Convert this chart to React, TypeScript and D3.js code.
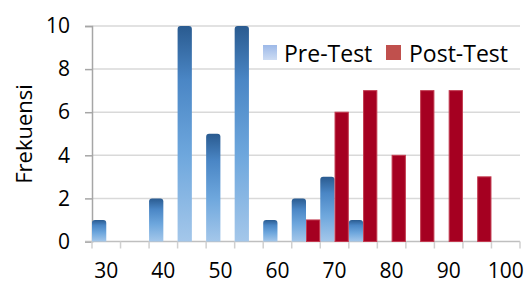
import { useEffect, useRef } from 'react';
import * as d3 from 'd3';

const categories = ['30', '35', '40', '45', '50', '55', '60', '65', '70', '75', '80', '85', '90', '95', '100'];
const preTest = [1, 0, 2, 10, 5, 10, 1, 2, 3, 1, 0, 0, 0, 0, 0];
const postTest = [0, 0, 0, 0, 0, 0, 0, 1, 6, 7, 4, 7, 7, 3, 0];
const xTickLabels = ['30', '40', '50', '60', '70', '80', '90', '100'];
const yTicks = [0, 2, 4, 6, 8, 10];
const seriesNames = ['Pre-Test', 'Post-Test'];

const FONT = '"Open Sans", sans-serif';

export default function App() {
  const svgRef = useRef<SVGSVGElement>(null);

  useEffect(() => {
    if (!svgRef.current) return;
    const svg = d3.select(svgRef.current);
    svg.selectAll('*').remove();

    const width = 525;
    const height = 282;
    const margin = { left: 92, right: 5, top: 26, bottom: 40.5 };

    const x = d3.scaleBand<string>()
      .domain(categories)
      .range([margin.left, width - margin.right])
      .padding(0);

    const xs = d3.scaleBand<string>()
      .domain(seriesNames)
      .range([0, x.bandwidth()])
      .padding(0);

    const y = d3.scaleLinear()
      .domain([0, 10])
      .range([height - margin.bottom, margin.top]);

    const defs = svg.append('defs');
    const grad = defs.append('linearGradient')
      .attr('id', 'preGrad')
      .attr('x1', 0).attr('y1', 0).attr('x2', 0).attr('y2', 1);
    grad.append('stop').attr('offset', '0%').attr('stop-color', '#2a5b90');
    grad.append('stop').attr('offset', '25%').attr('stop-color', '#4a86c5');
    grad.append('stop').attr('offset', '60%').attr('stop-color', '#6ea7dd');
    grad.append('stop').attr('offset', '100%').attr('stop-color', '#a4c7ea');

    const legGrad = defs.append('linearGradient')
      .attr('id', 'legGrad')
      .attr('x1', 0).attr('y1', 0).attr('x2', 0).attr('y2', 1);
    legGrad.append('stop').attr('offset', '0%').attr('stop-color', '#9db9e8');
    legGrad.append('stop').attr('offset', '100%').attr('stop-color', '#cddcf3');

    // gridlines
    svg.append('g')
      .selectAll('line')
      .data(yTicks.filter(d => d > 0))
      .join('line')
      .attr('x1', margin.left)
      .attr('x2', width - margin.right)
      .attr('y1', d => y(d))
      .attr('y2', d => y(d))
      .attr('stroke', '#d9d9d9')
      .attr('stroke-width', 1.5);

    // y axis
    const yAxis = d3.axisLeft(y)
      .tickValues(yTicks)
      .tickSize(7)
      .tickPadding(15)
      .tickFormat(d => String(d));
    const gy = svg.append('g')
      .attr('transform', `translate(${margin.left},0)`)
      .call(yAxis);
    gy.select('.domain').attr('stroke', '#a6a6a6').attr('stroke-width', 1.5);
    gy.selectAll('.tick line').attr('stroke', '#a6a6a6').attr('stroke-width', 1.5);
    gy.selectAll('.tick text')
      .attr('font-family', FONT)
      .attr('font-size', 21)
      .attr('fill', '#000');

    // x axis line + ticks at category boundaries
    const bounds = categories.map(c => x(c) as number).concat([width - margin.right]);
    const gx = svg.append('g');
    gx.append('line')
      .attr('x1', margin.left - 7)
      .attr('x2', width - margin.right)
      .attr('y1', y(0))
      .attr('y2', y(0))
      .attr('stroke', '#bfbfbf')
      .attr('stroke-width', 1.5);
    gx.selectAll('line.tk')
      .data(bounds)
      .join('line')
      .attr('class', 'tk')
      .attr('x1', d => d)
      .attr('x2', d => d)
      .attr('y1', y(0))
      .attr('y2', y(0) + 7)
      .attr('stroke', '#d0d0d0')
      .attr('stroke-width', 1.5);
    gx.selectAll('text')
      .data(xTickLabels)
      .join('text')
      .attr('x', d => (x(d) as number) + x.bandwidth() / 2)
      .attr('y', 277.5)
      .attr('text-anchor', 'middle')
      .attr('font-family', FONT)
      .attr('font-size', 21)
      .attr('fill', '#000')
      .text(d => d);

    // pre-test bars (rounded top)
    const bw = xs.bandwidth();
    const r = 3;
    svg.append('g')
      .selectAll('path')
      .data(categories.map((c, i) => ({ c, v: preTest[i] })).filter(d => d.v > 0))
      .join('path')
      .attr('d', d => {
        const x0 = (x(d.c) as number) + (xs('Pre-Test') as number);
        const yt = y(d.v);
        const yb = y(0);
        return `M${x0},${yb}V${yt + r}Q${x0},${yt} ${x0 + r},${yt}H${x0 + bw - r}Q${x0 + bw},${yt} ${x0 + bw},${yt + r}V${yb}Z`;
      })
      .attr('fill', 'url(#preGrad)');

    // post-test bars
    svg.append('g')
      .selectAll('rect')
      .data(categories.map((c, i) => ({ c, v: postTest[i] })).filter(d => d.v > 0))
      .join('rect')
      .attr('x', d => (x(d.c) as number) + (xs('Post-Test') as number) + 0.5)
      .attr('y', d => y(d.v))
      .attr('width', bw - 1)
      .attr('height', d => y(0) - y(d.v))
      .attr('fill', '#a50021')
      .attr('stroke', '#c23a4f')
      .attr('stroke-width', 1);

    // legend
    const leg = svg.append('g');
    leg.append('rect')
      .attr('x', 263).attr('y', 45).attr('width', 14).attr('height', 15)
      .attr('fill', 'url(#legGrad)');
    leg.append('text')
      .attr('x', 284).attr('y', 62)
      .attr('font-family', FONT).attr('font-size', 23).attr('fill', '#000')
      .text(seriesNames[0]);
    leg.append('rect')
      .attr('x', 386).attr('y', 45).attr('width', 15).attr('height', 15)
      .attr('fill', '#c0504d');
    leg.append('text')
      .attr('x', 409).attr('y', 62)
      .attr('font-family', FONT).attr('font-size', 23).attr('fill', '#000')
      .text(seriesNames[1]);

    // y axis title
    svg.append('text')
      .attr('transform', `translate(32,134) rotate(-90)`)
      .attr('text-anchor', 'middle')
      .attr('font-family', FONT)
      .attr('font-size', 22)
      .attr('fill', '#000')
      .text('Frekuensi');
  }, []);

  return (
    <svg
      ref={svgRef}
      width={525}
      height={282}
      style={{ position: 'absolute', left: 0, top: 0, background: '#fff' }}
    />
  );
}
